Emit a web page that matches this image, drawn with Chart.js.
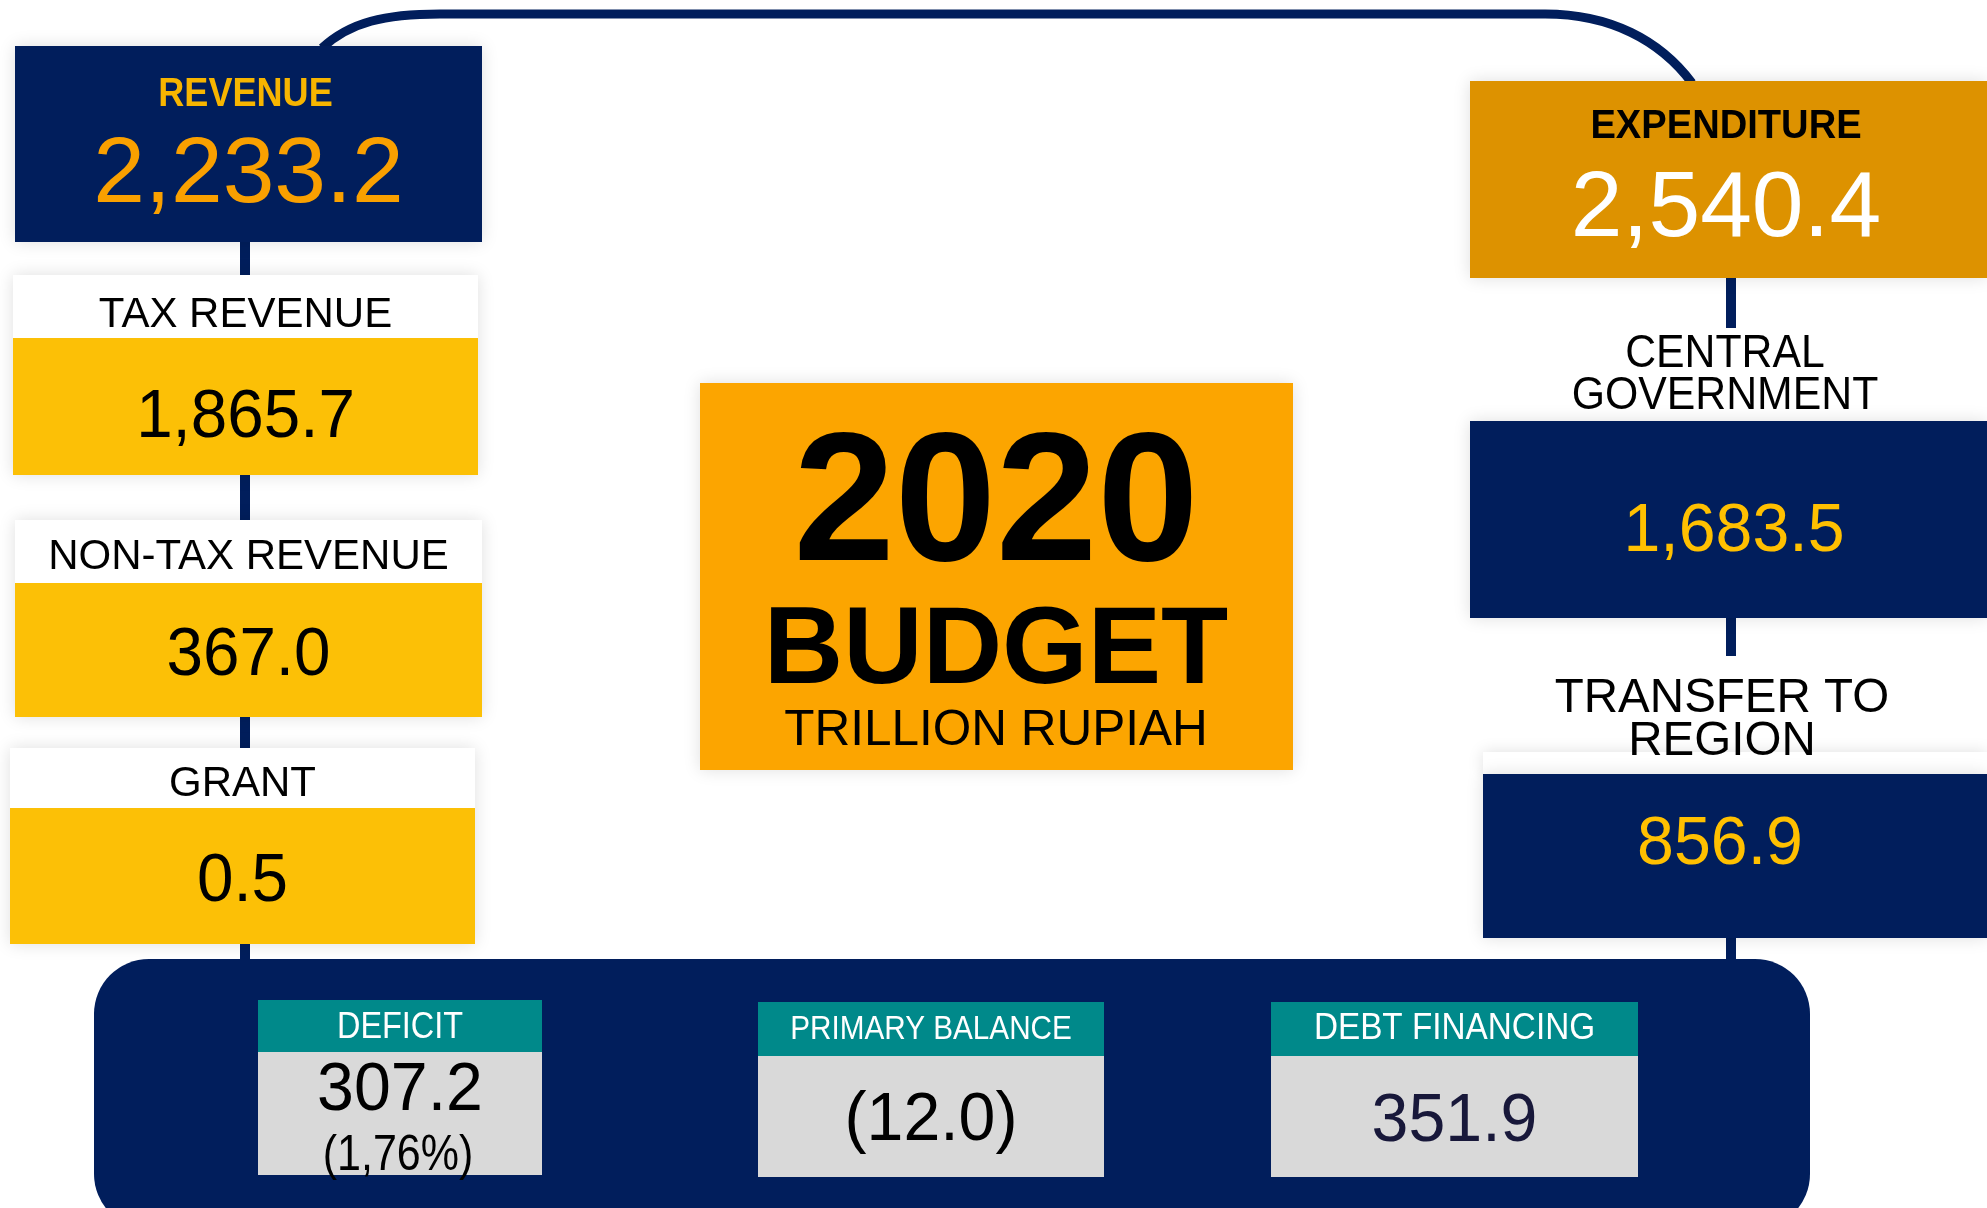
<!DOCTYPE html>
<html>
<head>
<meta charset="utf-8">
<script src="https://cdn.jsdelivr.net/npm/chart.js@4"></script>
<style>
  html, body { margin: 0; padding: 0; background: #fff; }
  canvas { display: block; }
</style>
</head>
<body>
<canvas id="budgetChart" width="1987" height="1208"></canvas>
<script>
// data
const titleLines = ['2020', 'BUDGET', 'TRILLION RUPIAH'];
const revenueLabels = ['REVENUE', 'TAX REVENUE', 'NON-TAX REVENUE', 'GRANT'];
const revenueValues = [2233.2, 1865.7, 367.0, 0.5];
const spendLabels = ['EXPENDITURE', 'CENTRAL\nGOVERNMENT', 'TRANSFER TO\nREGION'];
const spendValues = [2540.4, 1683.5, 856.9];
const financeLabels = ['DEFICIT', 'PRIMARY BALANCE', 'DEBT FINANCING'];
const financeValues = [307.2, -12.0, 351.9];
const deficitPct = [1.76];

// layout (in scale units = pixels of the 1987x1208 page)
const revenueBoxes = [
  {x: 15, y: 46, w: 467, h: 196, labelY: 91, valueY: 169},
  {x: 13, y: 275, w: 465, h: 200, head: 63, labelY: 312, valueY: 412},
  {x: 15, y: 520, w: 467, h: 197, head: 63, labelY: 554, valueY: 650},
  {x: 10, y: 748, w: 465, h: 196, head: 60, labelY: 781, valueY: 876}
];
const spendBoxes = [
  {x: 1470, y: 81, w: 517, h: 197, labelY: 123, valueY: 203, cx: 1726},
  {x: 1470, y: 421, w: 517, h: 197, labelY: 351, valueY: 526, cx: 1734, lx: 1725},
  {x: 1483, y: 774, w: 504, h: 164, labelY: 694, valueY: 839, cx: 1720, lx: 1722}
];
const financeBoxes = [
  {x: 258, y: 1000, w: 284, h: 175, head: 52, labelY: 1025, valueY: 1085, labelSize: 36},
  {x: 758, y: 1002, w: 346, h: 175, head: 54, labelY: 1027, valueY: 1115, labelSize: 33},
  {x: 1271, y: 1002, w: 367, h: 175, head: 54, labelY: 1026, valueY: 1116, labelSize: 37}
];
const centerBox = {x: 700, y: 383, w: 593, h: 387, cx: 996, lineY: [494, 644, 727]};
const bottomBox = {x: 94, y: 959, w: 1716, h: 270, r: 55};

const NAVY = '#011e5c';
const FONT = '"Liberation Sans", Arial, Helvetica, sans-serif';

function fmt(v) {
  let s = Math.abs(v).toLocaleString('en-US', {minimumFractionDigits: 1, maximumFractionDigits: 1});
  return v < 0 ? '(' + s + ')' : s;
}

const infographic = {
  id: 'infographic',
  afterDraw(chart) {
    const ctx = chart.ctx;
    const sx = chart.scales.x, sy = chart.scales.y;
    const X = v => sx.getPixelForValue(v);
    const Y = v => sy.getPixelForValue(v);

    function rect(b, y0, h, color, shadow) {
      ctx.save();
      if (shadow) {
        ctx.shadowColor = 'rgba(0,0,0,0.13)';
        ctx.shadowBlur = 16;
      }
      ctx.fillStyle = color;
      ctx.fillRect(X(b.x), Y(y0), X(b.x + b.w) - X(b.x), Y(y0 + h) - Y(y0));
      ctx.restore();
    }
    function text(str, cx, cy, size, color, weight, squeeze) {
      ctx.save();
      ctx.font = (weight || 'normal') + ' ' + size + 'px ' + FONT;
      ctx.fillStyle = color;
      ctx.textAlign = 'center';
      ctx.textBaseline = 'alphabetic';
      ctx.translate(X(cx), Y(cy) + size * 0.358);
      ctx.scale(squeeze || 1, 1);
      ctx.fillText(str, 0, 0);
      ctx.restore();
    }
    function vline(x, y0, y1) {
      ctx.save();
      ctx.fillStyle = NAVY;
      ctx.fillRect(X(x) - 5, Y(y0), 10, Y(y1) - Y(y0));
      ctx.restore();
    }

    // connectors
    ctx.save();
    ctx.strokeStyle = NAVY;
    ctx.lineWidth = 9;
    ctx.beginPath();
    ctx.moveTo(X(322), Y(48));
    ctx.bezierCurveTo(X(350), Y(22), X(385), Y(14), X(440), Y(14));
    ctx.lineTo(X(1545), Y(14));
    ctx.bezierCurveTo(X(1610), Y(14), X(1660), Y(40), X(1692), Y(83));
    ctx.stroke();
    ctx.restore();
    vline(245, 240, 962);
    vline(1731, 276, 328);
    vline(1731, 616, 656);
    vline(1731, 936, 962);

    // bottom financing panel
    ctx.save();
    ctx.fillStyle = NAVY;
    ctx.beginPath();
    ctx.roundRect(X(bottomBox.x), Y(bottomBox.y), X(bottomBox.x + bottomBox.w) - X(bottomBox.x),
      Y(bottomBox.y + bottomBox.h) - Y(bottomBox.y), bottomBox.r);
    ctx.fill();
    ctx.restore();

    // revenue side
    revenueBoxes.forEach((b, i) => {
      if (i === 0) {
        rect(b, b.y, b.h, NAVY, true);
        text(revenueLabels[i], b.x + b.w / 2 - 3, b.labelY, 41, '#f7b500', 'bold', 0.88);
        text(fmt(revenueValues[i]), b.x + b.w / 2, b.valueY, 93, '#f9a000');
      } else {
        rect(b, b.y, b.h, '#fcc006', true);
        rect(b, b.y, b.head, '#ffffff', false);
        text(revenueLabels[i], b.x + b.w / 2, b.labelY, 42, '#000');
        text(fmt(revenueValues[i]), b.x + b.w / 2, b.valueY, 69, '#000', 'normal', 0.95);
      }
    });

    // expenditure side
    spendBoxes.forEach((b, i) => {
      if (i === 0) {
        rect(b, b.y, b.h, '#dd9200', true);
        text(spendLabels[i], b.cx, b.labelY, 41, '#000', 'bold', 0.93);
        text(fmt(spendValues[i]), b.cx, b.valueY, 93, '#ffffff');
      } else {
        if (i === 2) rect({x: b.x, w: b.w}, b.y - 22, 22, '#ffffff', true);
        rect(b, b.y, b.h, NAVY, true);
        const lines = spendLabels[i].split('\n');
        const size = i === 1 ? 46 : 49;
        const gap = i === 1 ? 42 : 43;
        lines.forEach((ln, k) => text(ln, b.lx, b.labelY + k * gap, size, '#000', 'normal', i === 1 ? 0.93 : 0.97));
        text(fmt(spendValues[i]), b.cx, b.valueY, 69, '#ffc000', 'normal', 0.96);
      }
    });

    // centre title
    rect(centerBox, centerBox.y, centerBox.h, '#fca500', true);
    text(titleLines[0], centerBox.cx, centerBox.lineY[0], 184, '#000', 'bold', 0.99);
    text(titleLines[1], centerBox.cx, centerBox.lineY[1], 110, '#000', 'bold');
    text(titleLines[2], centerBox.cx, centerBox.lineY[2], 50, '#000', 'normal', 0.99);

    // financing cards
    financeBoxes.forEach((b, i) => {
      rect(b, b.y, b.h, '#d9d9d9', false);
      rect(b, b.y, b.head, '#00898a', false);
      const cx = b.x + b.w / 2;
      text(financeLabels[i], cx, b.labelY, b.labelSize, '#ffffff', 'normal', 0.9);
      const col = i === 2 ? '#18183a' : '#000';
      text(fmt(financeValues[i]), cx, b.valueY, 69, col, 'normal', 0.96);
      if (i === 0) {
        const pct = '(' + deficitPct[0].toFixed(2).replace('.', ',') + '%)';
        text(pct, cx - 2, 1152, 50, '#000', 'normal', 0.86);
      }
    });
  }
};

new Chart(document.getElementById('budgetChart'), {
  type: 'scatter',
  data: {datasets: []},
  options: {
    responsive: false,
    animation: false,
    events: [],
    layout: {padding: 0},
    plugins: {
      legend: {display: false},
      tooltip: {enabled: false}
    },
    scales: {
      x: {type: 'linear', min: 0, max: 1987, display: false},
      y: {type: 'linear', min: 0, max: 1208, reverse: true, display: false}
    }
  },
  plugins: [infographic]
});
</script>
</body>
</html>
